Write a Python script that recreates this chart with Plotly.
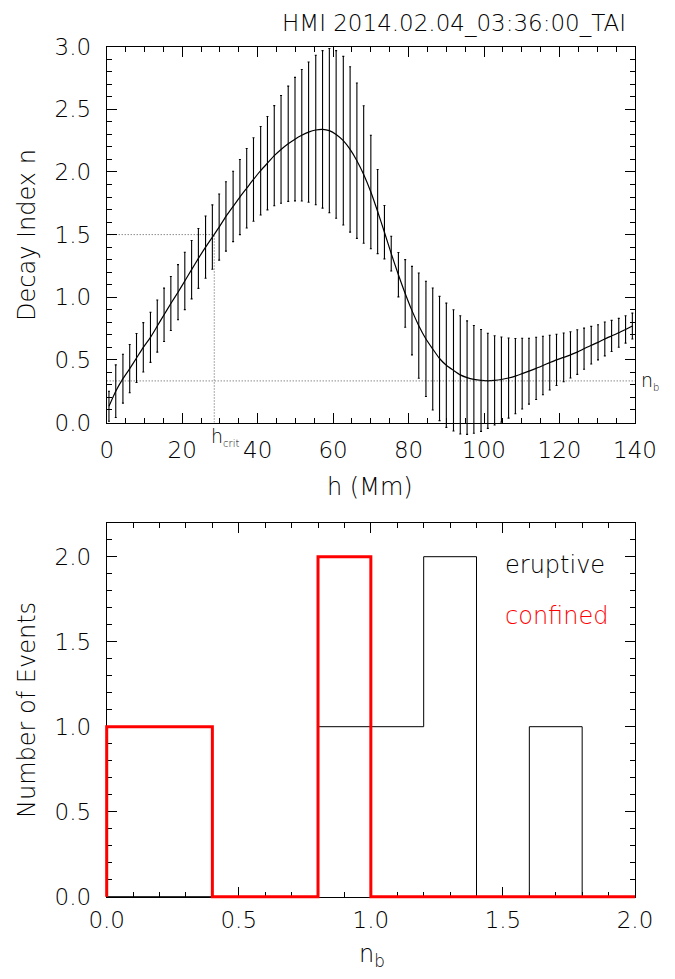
import plotly.graph_objects as go

# ---------------- data ----------------
h_mm = [0.6, 2.4, 4.3, 6.1, 7.9, 9.7, 11.6, 13.4, 15.2, 17.0,
        18.9, 20.7, 22.5, 24.3, 26.2, 28.0, 29.8, 31.6, 33.5, 35.3,
        37.1, 38.9, 40.8, 42.6, 44.4, 46.2, 48.1, 49.9, 51.7, 53.5,
        55.4, 57.2, 59.0, 60.8, 62.7, 64.5, 66.3, 68.1, 70.0, 71.8,
        73.6, 75.4, 77.3, 79.1, 80.9, 82.7, 84.6, 86.4, 88.2, 90.0,
        91.9, 93.7, 95.5, 97.3, 99.2, 101.0, 102.8, 104.6, 106.5, 108.3,
        110.1, 111.9, 113.8, 115.6, 117.4, 119.2, 121.1, 122.9, 124.7, 126.5,
        128.4, 130.2, 132.0, 133.8, 135.7, 137.5, 139.3]
decay_n = [0.13, 0.25, 0.35, 0.43, 0.515, 0.60, 0.68, 0.77, 0.86, 0.95,
           1.04, 1.13, 1.22, 1.31, 1.40, 1.48, 1.56, 1.645, 1.725, 1.80,
           1.87, 1.94, 2.01, 2.07, 2.13, 2.18, 2.225, 2.262, 2.293, 2.318,
           2.335, 2.34, 2.33, 2.30, 2.25, 2.18, 2.09, 1.98, 1.84, 1.684,
           1.519, 1.348, 1.18, 1.03, 0.893, 0.773, 0.667, 0.587, 0.511, 0.457,
           0.416, 0.38, 0.358, 0.344, 0.336, 0.333, 0.336, 0.343, 0.355, 0.37,
           0.39, 0.41, 0.432, 0.455, 0.478, 0.50, 0.52, 0.54, 0.562, 0.589,
           0.617, 0.64, 0.667, 0.691, 0.716, 0.743, 0.77]
decay_err = [0.12, 0.21, 0.195, 0.193, 0.196, 0.197, 0.20, 0.208, 0.213, 0.216,
             0.22, 0.229, 0.233, 0.239, 0.248, 0.257, 0.264, 0.277, 0.281, 0.30,
             0.317, 0.333, 0.353, 0.373, 0.40, 0.43, 0.46, 0.493, 0.525, 0.56,
             0.597, 0.629, 0.656, 0.669, 0.673, 0.66, 0.62, 0.549, 0.453, 0.336,
             0.213, 0.139, 0.177, 0.27, 0.353, 0.42, 0.46, 0.487, 0.496, 0.496,
             0.484, 0.472, 0.453, 0.43, 0.407, 0.38, 0.356, 0.34, 0.32, 0.30,
             0.282, 0.263, 0.248, 0.233, 0.218, 0.205, 0.195, 0.185, 0.178, 0.164,
             0.15, 0.14, 0.135, 0.124, 0.115, 0.109, 0.103]
h_crit = 28.5
n_crit = 1.5
n_b = 0.332

nb_edges = [0.0, 0.2, 0.4, 0.6, 0.8, 1.0, 1.2, 1.4, 1.6, 1.8, 2.0]
eruptive_counts = [0, 0, 0, 0, 1, 1, 2, 0, 1, 0]
confined_counts = [1, 1, 0, 0, 2, 0, 0, 0, 0, 0]

title_text = "HMI 2014.02.04_03:36:00_TAI"

# ---------------- layout geometry (page pixels) ----------------
PAGE_W, PAGE_H = 675, 979
OFF = 8  # default page body margin
W, H = PAGE_W - OFF, PAGE_H - OFF
FONT = "DejaVu Sans"


def fx(px):
    return (px - OFF) / W


def fy(py):
    return 1 - (py - OFF) / H


XL, XR = 106.7, 635.0
TOP_T, TOP_B = 46.7, 422.5
BOT_T, BOT_B = 522.7, 896.7

top_xr = [0, 140]
top_yr = [0, 3.0]
bot_xr = [0, 2.0]
bot_yr = [0, 2.2]

# expanded (unclipped) overlay subplots
top_pu = (TOP_B - TOP_T) / (top_yr[1] - top_yr[0])
eb_t, eb_b = 38.0, 445.0
eb_yr = [top_yr[0] - (eb_b - TOP_B) / top_pu, top_yr[1] + (TOP_T - eb_t) / top_pu]

hx_pu = (XR - XL) / (bot_xr[1] - bot_xr[0])
hy_pu = (BOT_B - BOT_T) / (bot_yr[1] - bot_yr[0])
hl, hr, ht, hb = 98.0, 644.0, 514.0, 905.0
hist_xr = [bot_xr[0] - (XL - hl) / hx_pu, bot_xr[1] + (hr - XR) / hx_pu]
hist_yr = [bot_yr[0] - (hb - BOT_B) / hy_pu, bot_yr[1] + (BOT_T - ht) / hy_pu]

fig = go.Figure()

# curve
fig.add_trace(go.Scatter(x=h_mm, y=decay_n, mode="lines",
                         line=dict(color="black", width=1.2, shape="spline", smoothing=0.6),
                         xaxis="x", yaxis="y", showlegend=False, hoverinfo="skip"))

dot = dict(color="#555555", width=1, dash="1px,2px")
fig.add_trace(go.Scatter(x=[0, h_crit], y=[n_crit, n_crit], mode="lines", line=dot,
                         xaxis="x", yaxis="y", showlegend=False))
fig.add_trace(go.Scatter(x=[h_crit, h_crit], y=[0, n_crit], mode="lines", line=dot,
                         xaxis="x", yaxis="y", showlegend=False))
fig.add_trace(go.Scatter(x=[0, 140], y=[n_b, n_b], mode="lines", line=dot,
                         xaxis="x", yaxis="y", showlegend=False))

# error bars (unclipped overlay)
fig.add_trace(go.Scatter(x=h_mm, y=decay_n, mode="markers",
                         marker=dict(size=1, color="rgba(0,0,0,0)"),
                         error_y=dict(type="data", array=decay_err, color="black",
                                      thickness=1.1, width=1),
                         xaxis="x3", yaxis="y3", showlegend=False, hoverinfo="skip"))


# histograms (unclipped overlay)
def step_xy(edges, counts):
    xs = [edges[0]] + list(edges)
    ys = [0] + list(counts) + [counts[-1]]
    return xs, ys


ex, ey = step_xy(nb_edges, eruptive_counts)
cx, cy = step_xy(nb_edges, confined_counts)
fig.add_trace(go.Scatter(x=ex, y=ey, mode="lines", line=dict(color="black", width=1, shape="hv"),
                         xaxis="x4", yaxis="y4", showlegend=False))
fig.add_trace(go.Scatter(x=cx, y=cy, mode="lines", line=dict(color="#ff0000", width=3, shape="hv"),
                         xaxis="x4", yaxis="y4", showlegend=False))

tickfont = dict(family=FONT, size=23, color="black", weight=200)
axis_common = dict(showline=True, linecolor="black", linewidth=1, mirror="allticks",
                   ticks="inside", ticklen=10, tickwidth=1, tickcolor="black",
                   showgrid=False, zeroline=False, tickfont=tickfont, automargin=False,
                   minor=dict(ticks="inside", ticklen=5, tickwidth=1, tickcolor="black",
                              showgrid=False))
hidden = dict(visible=False, showgrid=False, zeroline=False, automargin=False)

fig.update_layout(
    template="none",
    width=W, height=H,
    margin=dict(l=0, r=0, t=0, b=0, pad=0),
    paper_bgcolor="white", plot_bgcolor="rgba(0,0,0,0)",
    font=dict(family=FONT, color="black", weight=200),
    showlegend=False,
    xaxis=dict(domain=[fx(XL), fx(XR)], range=top_xr, tick0=0, dtick=20,
               anchor="y", ticklabelstandoff=7, **axis_common),
    yaxis=dict(domain=[fy(TOP_B), fy(TOP_T)], range=top_yr, tick0=0, dtick=0.5,
               tickformat=".1f", anchor="x", ticklabelstandoff=10, **axis_common),
    xaxis2=dict(domain=[fx(XL), fx(XR)], range=bot_xr, tick0=0, dtick=0.5,
                tickformat=".1f", anchor="y2", ticklabelstandoff=3, **axis_common),
    yaxis2=dict(domain=[fy(BOT_B), fy(BOT_T)], range=bot_yr, tick0=0, dtick=0.5,
                tickformat=".1f", anchor="x2", ticklabelstandoff=10, **axis_common),
    xaxis3=dict(domain=[fx(XL), fx(XR)], range=top_xr, anchor="y3", **hidden),
    yaxis3=dict(domain=[fy(eb_b), fy(eb_t)], range=eb_yr, anchor="x3", **hidden),
    xaxis4=dict(domain=[fx(hl), fx(hr)], range=hist_xr, anchor="y4", **hidden),
    yaxis4=dict(domain=[fy(hb), fy(ht)], range=hist_yr, anchor="x4", **hidden),
)
fig.update_xaxes(minor=dict(dtick=5), selector=dict(anchor="y"))
fig.update_yaxes(minor=dict(dtick=0.1), selector=dict(anchor="x"))
fig.update_xaxes(minor=dict(dtick=0.1), selector=dict(anchor="y2"))
fig.update_yaxes(minor=dict(dtick=0.1), selector=dict(anchor="x2"))

ann_font = dict(family=FONT, size=24, color="black", weight=200)
small_font = dict(family=FONT, size=19, color="black", weight=200)
anns = [
    dict(text=title_text, x=fx(628), y=fy(24), xref="paper", yref="paper",
         xanchor="right", yanchor="middle", showarrow=False,
         font=dict(family=FONT, size=23, color="black", weight=200)),
    dict(text="Decay Index n", x=fx(27), y=fy(235), xref="paper", yref="paper",
         textangle=-90, xanchor="center", yanchor="middle", showarrow=False, font=ann_font),
    dict(text="h (Mm)", x=fx(370), y=fy(487), xref="paper", yref="paper",
         xanchor="center", yanchor="middle", showarrow=False, font=ann_font),
    dict(text="Number of Events", x=fx(27), y=fy(710), xref="paper", yref="paper",
         textangle=-90, xanchor="center", yanchor="middle", showarrow=False, font=ann_font),
    dict(text="n<sub>b</sub>", x=fx(372), y=fy(955), xref="paper", yref="paper",
         xanchor="center", yanchor="middle", showarrow=False, font=ann_font),
    dict(text="h<sub><span style='font-size:10px'>crit</span></sub>", x=h_crit, xref="x",
         y=fy(437), yref="paper",
         xanchor="left", yanchor="middle", xshift=-5, showarrow=False, font=small_font),
    dict(text="n<sub><span style='font-size:10px'>b</span></sub>", x=140, xref="x", y=n_b, yref="y",
         xanchor="left", yanchor="middle", xshift=4, showarrow=False, font=small_font),
    dict(text="eruptive", x=1.5, xref="x2", y=1.95, yref="y2",
         xanchor="left", yanchor="middle", showarrow=False,
         font=dict(family=FONT, size=24, color="black", weight=200)),
    dict(text="confined", x=1.5, xref="x2", y=1.65, yref="y2",
         xanchor="left", yanchor="middle", showarrow=False,
         font=dict(family=FONT, size=24, color="#ff0000", weight=200)),
]
fig.update_layout(annotations=anns)

fig.write_html("out.html")
